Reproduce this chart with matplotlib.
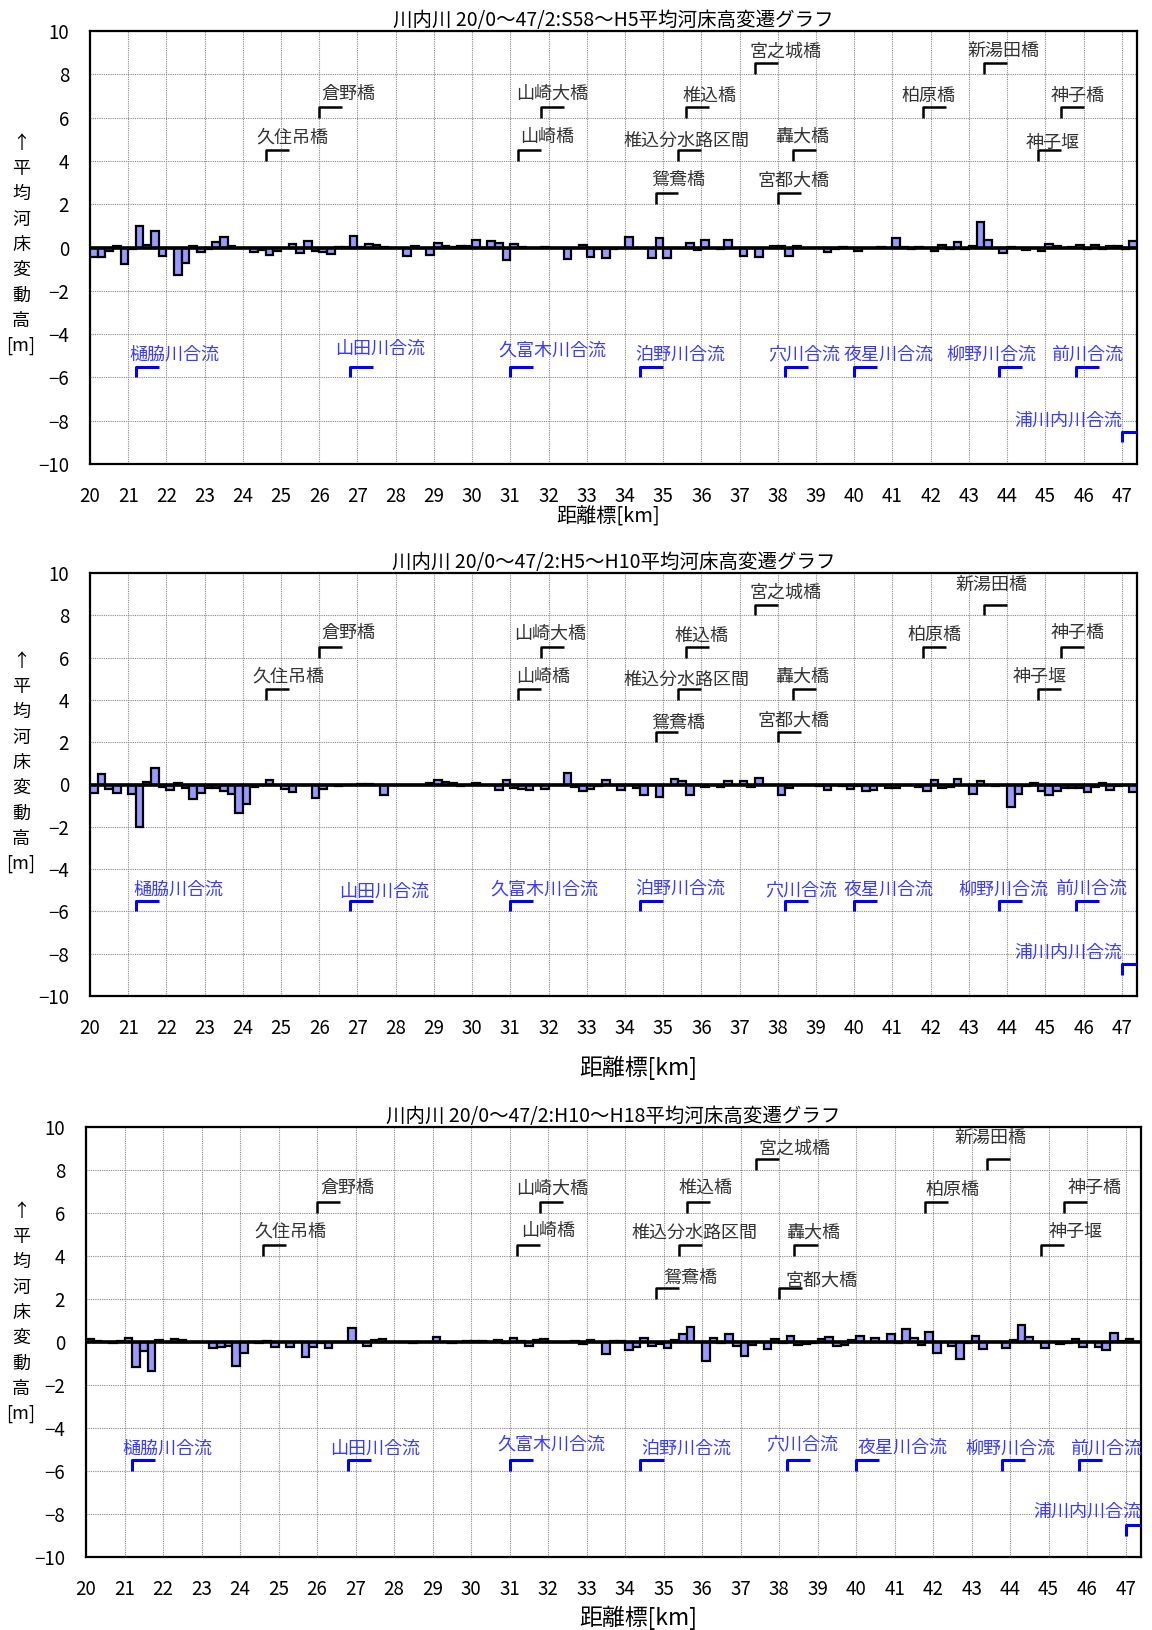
import numpy as np
import matplotlib
matplotlib.use("Agg")
import matplotlib.pyplot as plt

plt.rcParams['font.family'] = ['Noto Sans CJK JP', 'DejaVu Sans']

# ---------------- data ----------------
km = [round(20.0 + 0.2 * i, 1) for i in range(137)]

titles = [
    "川内川 20/0〜47/2:S58〜H5平均河床高変遷グラフ",
    "川内川 20/0〜47/2:H5〜H10平均河床高変遷グラフ",
    "川内川 20/0〜47/2:H10〜H18平均河床高変遷グラフ",
]

dz_s58_h5 = [
    -0.45, -0.45, -0.15, 0.07, -0.75, -0.08, 1.00, 0.12, 0.75, -0.38,
    0.00, -1.25, -0.70, 0.06, -0.22, -0.05, 0.26, 0.48, 0.05, -0.02,
    -0.03, -0.20, -0.10, -0.35, -0.15, -0.03, 0.18, -0.25, 0.28, -0.15,
    -0.20, -0.32, 0.02, 0.02, 0.52, 0.02, 0.14, 0.10, 0.02, 0.00,
    0.00, -0.38, 0.07, 0.00, -0.33, 0.23, 0.05, 0.02, 0.08, 0.05,
    0.36, 0.00, 0.32, 0.20, -0.60, 0.14, 0.03, -0.02, 0.00, 0.04,
    -0.03, -0.02, -0.55, -0.02, 0.10, -0.42, -0.05, -0.50, -0.05, 0.00,
    0.47, -0.02, -0.03, -0.47, 0.44, -0.50, -0.03, 0.00, 0.21, -0.10,
    0.35, 0.00, -0.05, 0.36, 0.00, -0.38, 0.00, -0.44, 0.00, 0.06,
    0.08, -0.40, 0.05, 0.00, -0.03, -0.02, -0.22, -0.05, 0.03, 0.00,
    -0.18, 0.00, 0.00, 0.02, -0.03, 0.42, 0.02, -0.07, 0.02, 0.00,
    -0.18, 0.12, -0.05, 0.26, -0.05, 0.05, 1.18, 0.36, 0.00, -0.27,
    0.02, 0.00, -0.10, 0.00, -0.18, 0.14, 0.05, -0.03, 0.03, 0.12,
    -0.05, 0.12, -0.07, 0.05, 0.08, -0.05, 0.30,
]

dz_h5_h10 = [
    -0.42, 0.50, -0.19, -0.41, 0.00, -0.46, -2.00, 0.10, 0.80, -0.10,
    -0.27, 0.05, -0.15, -0.70, -0.38, -0.15, -0.15, -0.30, -0.45, -1.37,
    -0.94, -0.14, -0.03, 0.19, 0.00, -0.19, -0.37, -0.02, 0.00, -0.62,
    -0.19, -0.03, -0.05, -0.02, 0.00, 0.02, 0.03, 0.00, -0.52, 0.00,
    0.00, -0.03, -0.03, 0.00, 0.05, 0.22, 0.13, 0.08, -0.05, 0.00,
    0.07, 0.00, 0.00, -0.24, 0.22, -0.15, -0.19, -0.24, 0.00, -0.20,
    0.00, 0.00, 0.54, -0.14, -0.29, -0.19, -0.05, 0.19, 0.00, -0.27,
    0.00, -0.15, -0.48, 0.00, -0.60, 0.00, 0.27, 0.16, -0.48, 0.00,
    -0.14, 0.00, -0.12, 0.17, 0.00, 0.17, -0.12, 0.32, 0.00, -0.02,
    -0.49, -0.15, 0.00, 0.00, -0.02, -0.05, -0.25, -0.03, -0.05, -0.19,
    -0.05, -0.32, -0.25, 0.00, -0.17, -0.15, 0.00, 0.00, -0.14, -0.29,
    0.20, -0.17, -0.12, 0.24, 0.00, -0.45, 0.17, 0.00, -0.05, 0.00,
    -1.08, -0.43, -0.05, 0.05, -0.29, -0.52, -0.33, -0.17, -0.17, -0.17,
    -0.37, -0.14, 0.07, -0.25, -0.05, 0.00, -0.35,
]

dz_h10_h18 = [
    0.12, 0.05, 0.00, -0.05, 0.05, 0.17, -1.15, -0.43, -1.36, 0.09,
    0.00, 0.15, 0.07, 0.02, -0.02, 0.00, -0.30, -0.23, -0.18, -1.12,
    -0.49, 0.00, -0.03, 0.05, -0.23, -0.02, -0.23, 0.00, -0.70, -0.23,
    -0.05, -0.30, 0.00, 0.00, 0.66, 0.00, -0.17, 0.11, 0.15, 0.00,
    0.00, 0.00, -0.05, 0.00, -0.02, 0.22, 0.00, -0.03, 0.00, 0.03,
    0.03, 0.03, 0.00, 0.10, -0.03, 0.18, 0.03, -0.18, 0.09, 0.14,
    -0.02, 0.00, 0.00, 0.05, -0.07, 0.08, 0.00, -0.58, 0.05, 0.05,
    -0.38, -0.23, 0.17, -0.18, -0.10, -0.26, 0.07, 0.35, 0.69, 0.00,
    -0.89, 0.17, -0.05, 0.38, -0.20, -0.67, -0.15, 0.00, -0.32, 0.14,
    -0.05, 0.29, -0.15, -0.10, -0.03, 0.15, 0.24, -0.18, -0.15, 0.10,
    0.30, 0.00, 0.17, 0.00, 0.35, -0.03, 0.61, 0.18, -0.15, 0.46,
    -0.49, 0.00, -0.18, -0.80, -0.05, 0.28, -0.32, 0.00, 0.00, -0.30,
    0.10, 0.78, 0.25, 0.00, -0.30, 0.00, -0.07, -0.03, 0.12, -0.21,
    0.00, -0.24, -0.35, 0.40, 0.05, 0.15, 0.00,
]
series = [dz_s58_h5, dz_h5_h10, dz_h10_h18]

# bridges (black markers): name, km, level
bridge_names = ["久住吊橋", "倉野橋", "山崎大橋", "山崎橋", "宮之城橋", "椎込橋", "椎込分水路区間",
                "鴛鴦橋", "轟大橋", "宮都大橋", "柏原橋", "新湯田橋", "神子橋", "神子堰"]
bridge_km = [24.6, 26.0, 31.8, 31.2, 37.4, 35.6, 35.4, 34.8, 38.4, 38.0, 41.8, 43.4, 45.4, 44.8]
bridge_lv = [4, 6, 6, 4, 8, 6, 4, 2, 4, 2, 6, 8, 6, 4]

# tributary confluences (blue markers)
trib_names = ["樋脇川合流", "山田川合流", "久富木川合流", "泊野川合流", "穴川合流",
              "夜星川合流", "柳野川合流", "前川合流", "浦川内川合流"]
trib_km = [21.2, 26.8, 31.0, 34.4, 38.2, 40.0, 43.8, 45.8, 47.0]
trib_lv = [-6, -6, -6, -6, -6, -6, -6, -6, -9]

# label text centres per panel (x in km, y in m)
bridge_txt = [
    [(25.3, 5.1), (26.75, 7.1), (32.1, 7.1), (31.95, 5.1), (38.2, 9.05), (36.2, 7.0), (35.6, 4.95),
     (35.4, 3.1), (38.65, 5.1), (38.4, 3.1), (41.95, 7.0), (43.9, 9.1), (45.85, 7.0), (45.2, 4.85)],
    [(25.2, 5.1), (26.75, 7.15), (32.05, 7.15), (31.85, 5.1), (38.2, 9.05), (36.0, 7.05), (35.6, 4.95),
     (35.4, 2.9), (38.65, 5.1), (38.4, 3.0), (42.1, 7.05), (43.6, 9.45), (45.85, 7.15), (44.85, 5.1)],
    [(25.3, 5.15), (26.8, 7.15), (32.1, 7.15), (32.0, 5.15), (38.4, 9.0), (36.1, 7.15), (35.8, 5.1),
     (35.7, 3.0), (38.9, 5.1), (39.1, 2.85), (42.5, 7.05), (43.5, 9.5), (46.2, 7.15), (45.7, 5.1)],
]
trib_txt = [
    [(22.2, -4.95), (27.6, -4.7), (32.1, -4.75), (35.45, -4.95), (38.7, -4.95), (40.9, -4.95),
     (43.6, -4.95), (46.1, -4.95), (45.6, -8.0)],
    [(22.3, -5.0), (27.7, -5.05), (31.9, -4.95), (35.45, -4.95), (38.6, -5.0), (40.9, -5.0),
     (43.9, -5.0), (46.2, -4.95), (45.6, -7.95)],
    [(22.1, -4.95), (27.5, -4.95), (32.1, -4.75), (35.6, -4.95), (38.6, -4.75), (41.2, -4.9),
     (44.0, -4.95), (46.5, -4.95), (46.0, -7.9)],
]

# ---------------- layout ----------------
W, H = 1152, 1630
fig = plt.figure(figsize=(W / 100, H / 100), dpi=100)

axes_px = [(90, 31, 1137, 464), (90, 573, 1137, 996), (86, 1127, 1141, 1557)]
ylab_cy = [245, 763, 1313]
xlab = [(608, 517, 14.5), (638, 1068, 16.5), (638, 1618, 16.5)]

bar_face = "#9999ff"
blue_line = "#0000ff"
blue_text = "#3b3bff"

for p in range(3):
    l, t, r, b = axes_px[p]
    ax = fig.add_axes([l / W, 1 - b / H, (r - l) / W, (b - t) / H])
    ax.bar(km, series[p], width=0.2, align='edge', color=bar_face,
           edgecolor='black', linewidth=1.6, zorder=3)
    ax.axhline(0, color='black', linewidth=2.6, zorder=4)
    ax.set_xlim(20, 47.4)
    ax.set_ylim(-10, 10)
    ax.set_xticks(np.arange(20, 48, 1))
    ax.set_yticks(np.arange(-10, 11, 2))
    ax.grid(True, color='#888888', linestyle=(0, (1, 1)), linewidth=0.8, zorder=0)
    ax.tick_params(axis='both', length=0, labelsize=13.5)
    ax.tick_params(axis='y', pad=15)
    ax.tick_params(axis='x', pad=16)
    for s in ax.spines.values():
        s.set_linewidth(1.6)
        s.set_color('black')
    ax.set_title(titles[p], fontsize=14, pad=3)

    # bridge markers
    for i, name in enumerate(bridge_names):
        x0, y0 = bridge_km[i], bridge_lv[i]
        ax.plot([x0, x0, x0 + 0.6], [y0, y0 + 0.5, y0 + 0.5], color='black',
                linewidth=1.8, zorder=5, solid_capstyle='butt')
        tx, ty = bridge_txt[p][i]
        ax.text(tx, ty, name, ha='center', va='center', fontsize=13, color='#333333', zorder=6)
    # tributary markers
    for i, name in enumerate(trib_names):
        x0, y0 = trib_km[i], trib_lv[i]
        ax.plot([x0, x0, x0 + 0.6], [y0, y0 + 0.5, y0 + 0.5], color=blue_line,
                linewidth=2.2, zorder=5, solid_capstyle='butt')
        tx, ty = trib_txt[p][i]
        ax.text(tx, ty, name, ha='center', va='center', fontsize=13, color=blue_text,
                zorder=6, clip_on=False)

    # vertical y label
    fig.text(21 / W, 1 - ylab_cy[p] / H, "\n".join(["↑", "平", "均", "河", "床", "変", "動", "高", "[m]"]),
             ha='center', va='center', fontsize=13, linespacing=1.52)
    # x label
    xx, yy, fs = xlab[p]
    fig.text(xx / W, 1 - yy / H, "距離標[km]", ha='center', va='center', fontsize=fs)

fig.savefig("out.png", dpi=100)
